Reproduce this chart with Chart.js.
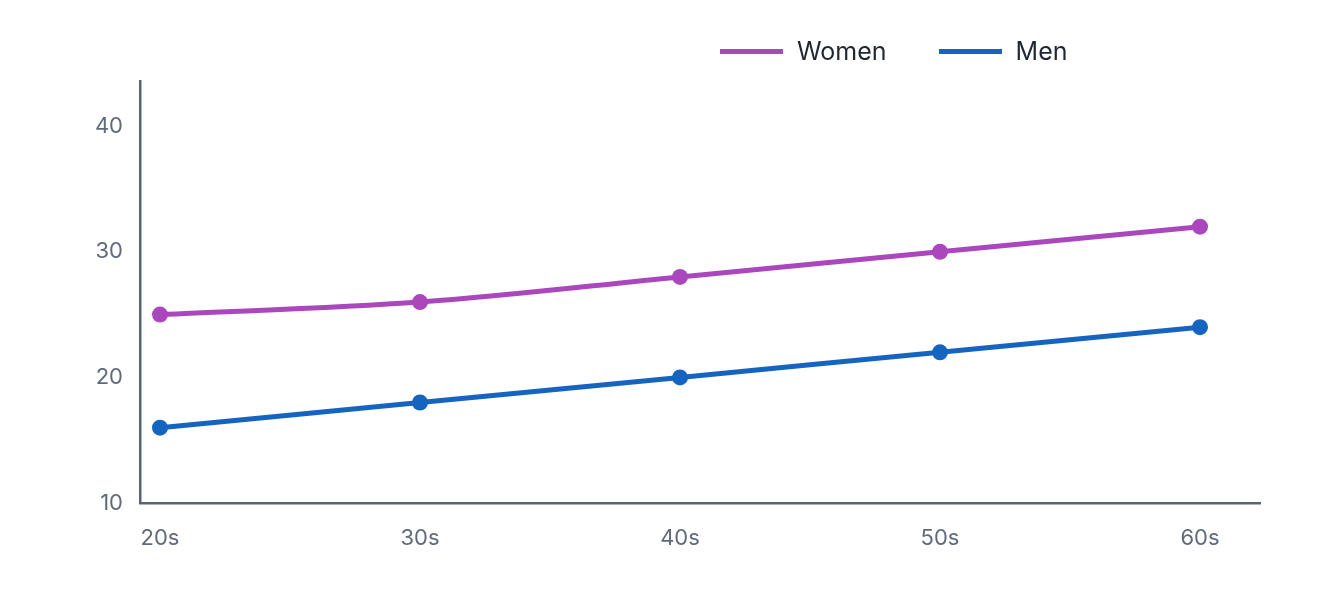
<!DOCTYPE html>
<html>
<head>
<meta charset="utf-8">
<script src="https://cdn.jsdelivr.net/npm/chart.js@4/dist/chart.umd.min.js"></script>
<style>
  html, body { margin: 0; padding: 0; background: #fff; }
  #wrap { position: relative; width: 1320px; height: 600px; }
  #legend { position: absolute; top: 36px; left: 720px; display: flex; font-family: Inter, sans-serif; font-size: 25px; color: #1f2733; }
  .item { display: flex; align-items: center; margin-right: 52px; }
  .swatch { width: 63px; height: 5px; margin-right: 14px; }
</style>
</head>
<body>
<div id="wrap">
  <canvas id="chart" width="1320" height="600"></canvas>
  <div id="legend"></div>
</div>
<script>
const decades = [20, 30, 40, 50, 60];
const categories = ['20s', '30s', '40s', '50s', '60s'];
const women = [25, 26, 28, 30, 32];
const men = [16, 18, 20, 22, 24];
const yTicks = [10, 20, 30, 40];

const seriesNames = ['Women', 'Men'];
const seriesColors = ['#ab47bc', '#1565c0'];

function toPoints(values) {
  return values.map((v, i) => ({ x: decades[i], y: v }));
}

const datasets = [women, men].map((vals, i) => ({
  label: seriesNames[i],
  data: toPoints(vals),
  borderColor: seriesColors[i],
  backgroundColor: seriesColors[i],
  borderWidth: 5,
  pointRadius: 8,
  pointBorderWidth: 0,
  cubicInterpolationMode: 'monotone'
}));

const tickFont = { family: 'Inter, sans-serif', size: 22 };
const axisColor = '#5a6573';

const chart = new Chart(document.getElementById('chart'), {
  type: 'line',
  data: { datasets },
  options: {
    responsive: false,
    animation: false,
    layout: { padding: { top: 81, right: 60, left: 0, bottom: 0 } },
    plugins: { legend: { display: false }, tooltip: { enabled: false } },
    scales: {
      x: {
        type: 'linear',
        min: 20 - 20 / 26,
        max: 60 + 60 / 26,
        afterBuildTicks: s => { s.ticks = decades.map(v => ({ value: v })); },
        afterFit: s => { s.height = 97; },
        grid: { display: false, drawTicks: false },
        border: { display: true, color: axisColor, width: 2.5 },
        ticks: {
          font: tickFont,
          color: '#5f6b7a',
          padding: 22,
          maxRotation: 0,
          callback: v => categories[decades.indexOf(v)]
        }
      },
      y: {
        min: 10,
        max: 43.6,
        afterBuildTicks: s => { s.ticks = yTicks.map(v => ({ value: v })); },
        afterFit: s => { s.width = 140; },
        grid: { display: false, drawTicks: false },
        border: { display: true, color: axisColor, width: 2.5 },
        ticks: { font: tickFont, color: '#5f6b7a', padding: 17 }
      }
    }
  }
});

const legend = document.getElementById('legend');
seriesNames.forEach((name, i) => {
  const item = document.createElement('div');
  item.className = 'item';
  const sw = document.createElement('span');
  sw.className = 'swatch';
  sw.style.background = seriesColors[i];
  const txt = document.createElement('span');
  txt.textContent = name;
  item.appendChild(sw);
  item.appendChild(txt);
  legend.appendChild(item);
});
</script>
</body>
</html>
